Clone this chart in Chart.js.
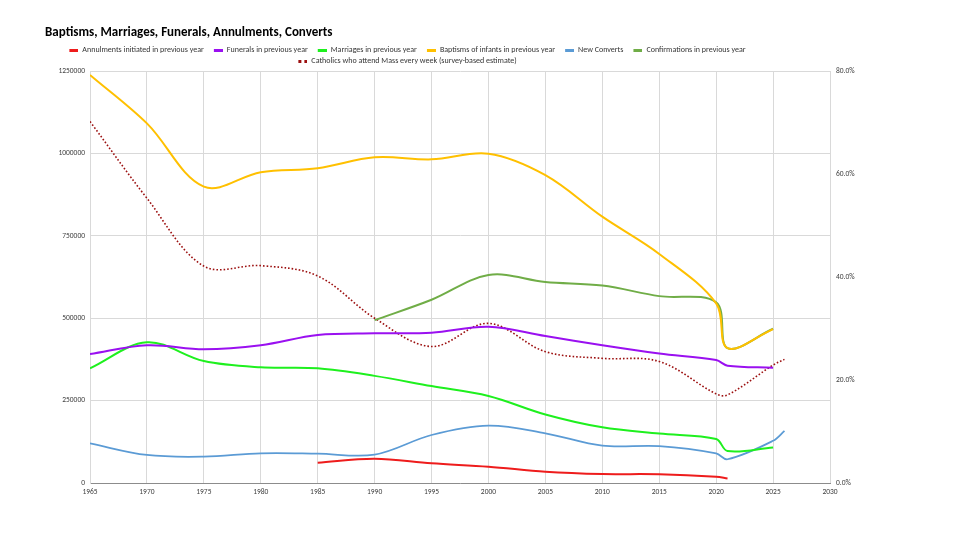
<!DOCTYPE html>
<html>
<head>
<meta charset="utf-8">
<title>Baptisms, Marriages, Funerals, Annulments, Converts</title>
<script src="https://cdn.jsdelivr.net/npm/chart.js@4.4.1/dist/chart.umd.min.js"></script>
<style>
  html, body { margin: 0; padding: 0; background: #fff; }
</style>
</head>
<body>
<canvas id="chart" width="960" height="540"></canvas>
<script>
// years of each data point (5-year steps, then the recent years)
const years = [1965, 1970, 1975, 1980, 1985, 1990, 1995, 2000, 2005, 2010, 2015, 2020, 2021, 2025];
const yearsLong = [1965, 1970, 1975, 1980, 1985, 1990, 1995, 2000, 2005, 2010, 2015, 2020, 2021, 2025, 2026];
const annulYears = [1985, 1990, 1995, 2000, 2005, 2010, 2015, 2020, 2021];
const confirmYears = [1990, 1995, 2000, 2005, 2010, 2015, 2020, 2021, 2025];

const annulments = [61600, 73700, 59700, 49500, 34300, 27300, 26400, 19000, 14000];
const funerals = [391000, 418000, 406000, 418000, 449000, 454000, 456000, 474000, 446000, 418000, 393000, 373000, 356000, 350000];
const marriages = [348000, 427000, 370000, 351000, 348000, 325000, 294000, 264000, 208000, 169000, 150000, 133500, 97000, 108000];
const baptisms = [1238000, 1091000, 899000, 943000, 955000, 988000, 982000, 999000, 934000, 808000, 695000, 545000, 409000, 467000];
const converts = [120000, 85000, 80000, 90000, 89000, 86000, 145600, 174000, 150800, 113300, 112000, 90000, 72000, 128000, 158000];
const confirmations = [494000, 556000, 631000, 610000, 599000, 567000, 548000, 409000, 468000];
const massPct = [70.2, 55.3, 42.1, 42.2, 40.2, 32.0, 26.5, 31.0, 25.5, 24.2, 23.6, 17.3, 17.1, 22.9, 24.0];

const leftTicks = [0, 250000, 500000, 750000, 1000000, 1250000];
const rightTicks = [0, 20, 40, 60, 80];

const FONT = "Carlito, Lato, sans-serif";

function pts(xs, ys) {
    return xs.map((x, i) => ({x: x, y: ys[i]}));
}

// small legend markers, a dash or two dots, with some blank room before them
function mark(color, dotted) {
    var c = document.createElement('canvas');
    c.width = 16; c.height = 3;
    var g = c.getContext('2d');
    g.fillStyle = color;
    if (dotted) {
        g.fillRect(7, 0, 3, 3);
        g.fillRect(13, 0, 3, 3);
    } else {
        g.fillRect(7, 0, 9, 3);
    }
    return c;
}

function line(label, xs, ys, color, width, extra) {
    return Object.assign({
        label: label,
        data: pts(xs, ys),
        borderColor: color,
        backgroundColor: color,
        borderWidth: width,
        pointRadius: 0,
        tension: 0.35,
        fill: false,
        yAxisID: 'y',
        legendMark: mark(color, false)
    }, extra || {});
}

const datasets = [
    line('Annulments initiated in previous year', annulYears, annulments, '#ee1c1c', 2),
    line('Funerals in previous year', years, funerals, '#9a10f0', 2),
    line('Marriages in previous year', years, marriages, '#1ef01e', 2),
    line('Baptisms of infants in previous year', years, baptisms, '#ffc000', 2),
    line('New Converts', yearsLong, converts, '#5b9bd5', 1.75),
    line('Confirmations in previous year', confirmYears, confirmations, '#70ad47', 2),
    line('Catholics who attend Mass every week (survey-based estimate)', yearsLong, massPct, '#9c1010', 1.6, {
        borderDash: [1.6, 2],
        yAxisID: 'y1',
        legendMark: mark('#9c1010', true)
    })
];

// move the legend a little left and down, like the original
const legendNudge = {
    id: 'legendNudge',
    afterLayout(chart) {
        var lg = chart.legend;
        lg.left -= 56; lg.right -= 56;
        lg.top += 4; lg.bottom += 4;
    }
};

const tickFont = {family: FONT, size: 7.5};

new Chart(document.getElementById('chart'), {
    type: 'line',
    data: {datasets: datasets},
    plugins: [legendNudge],
    options: {
        responsive: false,
        animation: false,
        layout: {padding: {left: 45, right: 0, top: 0, bottom: 0}},
        plugins: {
            title: {
                display: true,
                text: 'Baptisms, Marriages, Funerals, Annulments, Converts',
                align: 'start',
                color: '#000',
                font: {family: FONT, size: 13, weight: 'bold', lineHeight: 1},
                padding: {top: 26, bottom: 0}
            },
            legend: {
                position: 'top',
                fullSize: false,
                labels: {
                    usePointStyle: true,
                    pointStyleWidth: 16,
                    boxHeight: 3,
                    padding: 3,
                    color: '#333',
                    font: {family: FONT, size: 8},
                    generateLabels(chart) {
                        var items = Chart.defaults.plugins.legend.labels.generateLabels(chart);
                        items.forEach(function (it) {
                            it.pointStyle = chart.data.datasets[it.datasetIndex].legendMark;
                        });
                        return items;
                    }
                }
            },
            tooltip: {enabled: false}
        },
        scales: {
            x: {
                type: 'linear',
                min: 1965,
                max: 2030,
                afterFit(scale) { scale.height = 57; },
                afterBuildTicks(scale) {
                    var t = [];
                    for (var v = 1965; v <= 2030; v += 5) t.push({value: v});
                    scale.ticks = t;
                },
                ticks: {
                    font: tickFont,
                    color: '#404040',
                    padding: 5,
                    maxRotation: 0,
                    callback: (v) => String(v)
                },
                grid: {color: '#d9d9d9', drawTicks: false},
                border: {color: '#8c8c8c'}
            },
            y: {
                position: 'left',
                min: 0,
                max: 1250000,
                afterFit(scale) { scale.width = 45; },
                afterBuildTicks(scale) {
                    scale.ticks = leftTicks.map((v) => ({value: v}));
                },
                ticks: {
                    font: tickFont,
                    color: '#404040',
                    padding: 5,
                    callback: (v) => String(v)
                },
                grid: {color: '#d9d9d9', drawTicks: false},
                border: {color: '#d9d9d9'}
            },
            y1: {
                position: 'right',
                min: 0,
                max: 80,
                afterFit(scale) { scale.width = 130; },
                afterBuildTicks(scale) {
                    scale.ticks = rightTicks.map((v) => ({value: v}));
                },
                ticks: {
                    font: tickFont,
                    color: '#404040',
                    padding: 6,
                    callback: (v) => v.toFixed(1) + '%'
                },
                grid: {display: false, drawTicks: false},
                border: {display: false}
            }
        }
    }
});
</script>
</body>
</html>
